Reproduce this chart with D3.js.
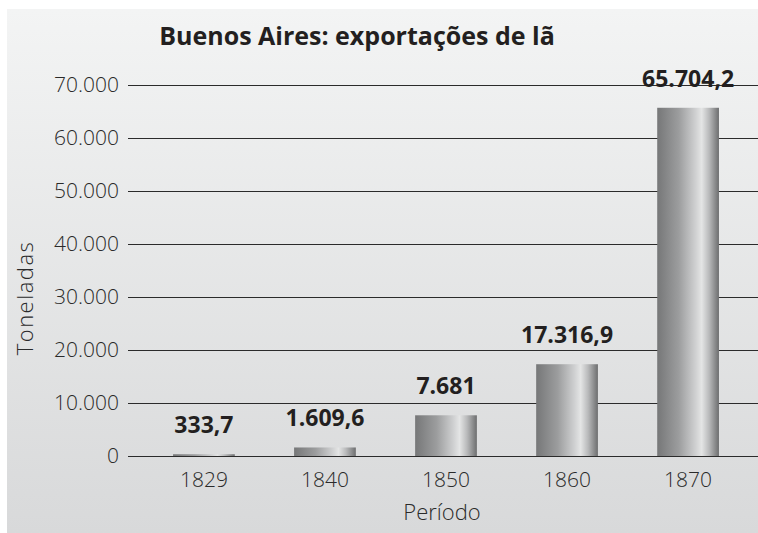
<!DOCTYPE html>
<html lang="pt">
<head>
<meta charset="UTF-8">
<title>Buenos Aires: exportações de lã</title>
<style>
  body { margin: 0; background: #fff; }
  text { font-family: "Open Sans", Lato, sans-serif; }
</style>
</head>
<body>
<svg id="chart" width="758" height="533"></svg>
<script src="https://cdn.jsdelivr.net/npm/d3@7/dist/d3.min.js"></script>
<script>
const periods = ["1829", "1840", "1850", "1860", "1870"];
const tons = [333.7, 1609.6, 7681, 17316.9, 65704.2];
const valueLabels = ["333,7", "1.609,6", "7.681", "17.316,9", "65.704,2"];
const yTicks = [0, 10000, 20000, 30000, 40000, 50000, 60000, 70000];

const svg = d3.select("#chart");
const defs = svg.append("defs");

// panel background, lighter at top
let bg = defs.append("linearGradient").attr("id", "bg")
    .attr("x1", 0).attr("y1", 0).attr("x2", 0).attr("y2", 1);
bg.append("stop").attr("offset", "0%").attr("stop-color", "#f3f4f4");
bg.append("stop").attr("offset", "100%").attr("stop-color", "#d8d9da");

// cylinder shading
let cyl = defs.append("linearGradient").attr("id", "cyl")
    .attr("x1", 0).attr("y1", 0).attr("x2", 1).attr("y2", 0);
[["0%", "#767778"], ["35%", "#9c9d9e"], ["62%", "#cfd0d1"], ["72%", "#e4e5e5"],
 ["84%", "#b9babb"], ["100%", "#6d6e6f"]].forEach(s =>
    cyl.append("stop").attr("offset", s[0]).attr("stop-color", s[1]));

svg.append("rect").attr("x", 7).attr("y", 9)
    .attr("width", 751).attr("height", 524).attr("fill", "url(#bg)");

const x = d3.scaleBand().domain(periods).range([144, 748]).paddingInner(0.49).paddingOuter(0.24);
const y = d3.scaleLinear().domain([0, 70000]).range([456, 85]);
const fmt = d3.formatLocale({ decimal: ",", thousands: ".", grouping: [3], currency: ["", ""] }).format(",d");

// grid + tick labels
let yAxis = svg.append("g").attr("transform", "translate(128,0)")
    .call(d3.axisLeft(y).tickValues(yTicks).tickFormat(fmt)
        .tickSize(-630).tickPadding(9));
yAxis.select(".domain").remove();
yAxis.selectAll("line").attr("stroke", "#2b2b2b").attr("stroke-width", 1.2);
yAxis.selectAll("text").attr("font-size", 21).attr("font-weight", 300).attr("fill", "#2a2a2a")
    .style("font-family", "'Open Sans', sans-serif");

// bars
svg.append("g").selectAll("rect").data(tons).join("rect")
    .attr("x", (d, i) => x(periods[i]))
    .attr("width", x.bandwidth())
    .attr("y", d => y(d))
    .attr("height", d => y(0) - y(d))
    .attr("fill", "url(#cyl)");

// value labels
svg.append("g").selectAll("text").data(tons).join("text")
    .attr("x", (d, i) => x(periods[i]) + x.bandwidth() / 2)
    .attr("y", d => y(d) - 21)
    .attr("text-anchor", "middle")
    .attr("font-size", 23).attr("font-weight", "bold").attr("fill", "#231f20")
    .text((d, i) => valueLabels[i]);

// x axis labels
let xAxis = svg.append("g").attr("transform", "translate(0,456)")
    .call(d3.axisBottom(x).tickSize(0).tickPadding(16));
xAxis.select(".domain").remove();
xAxis.selectAll("text").attr("font-size", 21).attr("font-weight", 300).attr("fill", "#2a2a2a")
    .style("font-family", "'Open Sans', sans-serif");

svg.append("text").attr("x", 357).attr("y", 45).attr("text-anchor", "middle")
    .attr("font-size", 25).attr("font-weight", "bold").attr("fill", "#231f20")
    .text("Buenos Aires: exportações de lã");

svg.append("text").attr("x", 442).attr("y", 520).attr("text-anchor", "middle")
    .attr("font-size", 22).attr("font-weight", 300).attr("fill", "#2a2a2a").text("Período");

svg.append("text").attr("transform", "translate(33,298) rotate(-90)")
    .attr("text-anchor", "middle").attr("letter-spacing", 1.5)
    .attr("font-size", 22).attr("font-weight", 300).attr("fill", "#2a2a2a").text("Toneladas");
</script>
</body>
</html>
